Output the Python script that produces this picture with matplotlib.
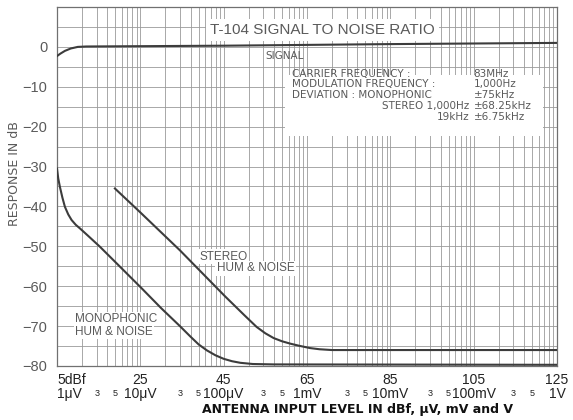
import numpy as np
import matplotlib
matplotlib.use("Agg")
import matplotlib.pyplot as plt
from matplotlib.patches import Rectangle

plt.rcParams['font.family'] = ['Liberation Sans', 'DejaVu Sans']

# curves: x in dBf, y in dB
signal_dbf = [5, 5.8, 6.9, 8.3, 10, 12, 45, 85, 125]
signal_db = [-2.3, -1.7, -1.0, -0.4, 0.0, 0.1, 0.3, 0.7, 1.0]

mono_dbf = [5, 5.3, 5.7, 6.3, 6.9, 7.7, 8.5, 9.5, 10.5, 12.5, 15.3, 20.5, 25.3, 30, 34.5,
            37, 39, 41, 43, 45, 47, 49, 52, 57, 125]
mono_db = [-30.5, -33.0, -35.1, -37.8, -40.1, -42.0, -43.4, -44.6, -45.5, -47.4, -50.1, -55.5,
           -60.5, -65.5, -70.0, -72.6, -74.6, -76.1, -77.3, -78.2, -78.8, -79.2, -79.5, -79.6, -79.7]

stereo_dbf = [18.9, 25, 34.5, 45.3, 50, 52.9, 55, 57, 59, 61, 63, 65.7, 68, 71, 125]
stereo_db = [-35.5, -41.5, -51.0, -62.5, -67.3, -70.2, -71.8, -73.0, -73.8, -74.4, -74.9, -75.5,
             -75.8, -76.0, -76.0]

# axis labels
major_dbf = [5, 25, 45, 65, 85, 105, 125]
major_dbf_labels = ["5dBf", "25", "45", "65", "85", "105", "125"]
major_volt_labels = ["1\u03bcV", "10\u03bcV", "100\u03bcV", "1mV", "10mV", "100mV", "1V"]
minor_steps = [3, 5]
y_ticks = [0, -10, -20, -30, -40, -50, -60, -70, -80]

# info block
info_left = ["CARRIER FREQUENCY :", "MODULATION FREQUENCY :", "DEVIATION : MONOPHONIC",
             "STEREO 1,000Hz", "19kHz"]
info_right = ["83MHz", "1,000Hz", "\u00b175kHz", "\u00b168.25kHz", "\u00b16.75kHz"]

text_gray = "#5a5a5a"
curve_col = "#3c3c3c"
grid_col = "#9a9a9a"
wide = ['DejaVu Sans']

fig = plt.figure(figsize=(5.73, 4.2), dpi=100)
ax = fig.add_axes([57 / 573, 54 / 420, 500 / 573, 359 / 420])
ax.set_xlim(5, 125)
ax.set_ylim(-80, 10)

# log-paper grid: voltage lines 1..9 per decade (20 dBf per decade)
vlines = []
for dec in range(6):
    for k in range(1, 10):
        vlines.append(5 + 20 * dec + 20 * np.log10(k))
for v in vlines:
    ax.axvline(v, color=grid_col, lw=0.6, zorder=0)
for h in np.arange(-80, 10.1, 5):
    ax.axhline(h, color=grid_col, lw=0.6, zorder=0)

ax.plot(signal_dbf, signal_db, color=curve_col, lw=1.5, zorder=3)
ax.plot(mono_dbf, mono_db, color=curve_col, lw=1.5, zorder=3)
ax.plot(stereo_dbf, stereo_db, color=curve_col, lw=1.5, zorder=3)

for s in ax.spines.values():
    s.set_color("#707070")
    s.set_linewidth(0.9)

ax.set_yticks(y_ticks)
ax.set_yticklabels(["0"] + ["\u2212%d" % -t for t in y_ticks[1:]], fontsize=10.5, color=text_gray)
ax.tick_params(axis="y", length=0, pad=7)
ax.set_xticks([])

# x tick labels in two rows
for d, l1, l2 in zip(major_dbf, major_dbf_labels, major_volt_labels):
    ha = "left" if d == major_dbf[0] else "center"
    ax.annotate(l1, xy=(d, 0), xycoords=("data", "axes fraction"), xytext=(0, -14),
                textcoords="offset pixels", ha=ha, va="center", fontsize=10, color="#222222")
    ax.annotate(l2, xy=(d, 0), xycoords=("data", "axes fraction"), xytext=(0, -28),
                textcoords="offset pixels", ha=ha, va="center", fontsize=10, color="#222222")
for dec in range(6):
    for k in minor_steps:
        ax.annotate(str(k), xy=(5 + 20 * dec + 20 * np.log10(k), 0),
                    xycoords=("data", "axes fraction"), xytext=(0, -28),
                    textcoords="offset pixels", ha="center", va="center",
                    fontsize=6.5, color="#222222")

fig.text(357 / 573, 11 / 420, "ANTENNA INPUT LEVEL IN dBf, \u03bcV, mV and V",
         ha="center", va="center", fontsize=9, color="#111111", family=wide, weight="bold")
fig.text(15 / 573, 1 - 174 / 420, "RESPONSE IN dB", rotation=90, ha="center",
         va="center", fontsize=9, color=text_gray, family=wide)

# title
ax.text(68.6, 4.2, "T-104 SIGNAL TO NOISE RATIO", ha="center", va="center", fontsize=11,
        color=text_gray, zorder=4,
        bbox=dict(facecolor="white", edgecolor="none", pad=3))
ax.text(54.9, -2.4, "SIGNAL", ha="left", va="center", fontsize=7.5, color=text_gray,
        zorder=4, family=wide)

# info block on white panel
ax.add_patch(Rectangle((0.456, 0.64), 0.515, 0.17, transform=ax.transAxes,
                       facecolor="white", edgecolor="none", zorder=2))
info_y = [-6.7, -9.4, -12.1, -14.9, -17.5]
for i, (a, b, y) in enumerate(zip(info_left, info_right, info_y)):
    if i < 3:
        ax.text(61.4, y, a, ha="left", va="center", fontsize=7.5, color=text_gray,
                zorder=4, family=wide)
    else:
        ax.text(104.0, y, a, ha="right", va="center", fontsize=7.5, color=text_gray,
                zorder=4, family=wide)
    ax.text(105.0, y, b, ha="left", va="center", fontsize=7.5, color=text_gray,
            zorder=4, family=wide)

lbl_box = dict(facecolor="white", edgecolor="none", pad=1)
ax.text(39.1, -52.6, "STEREO", ha="left", va="center", fontsize=8.5, color=text_gray,
        zorder=4, bbox=lbl_box)
ax.text(43.3, -55.5, "HUM & NOISE", ha="left", va="center", fontsize=8.5, color=text_gray,
        zorder=4, bbox=lbl_box)
ax.text(9.3, -68.2, "MONOPHONIC", ha="left", va="center", fontsize=8.5, color=text_gray,
        zorder=4, bbox=lbl_box)
ax.text(9.3, -71.4, "HUM & NOISE", ha="left", va="center", fontsize=8.5, color=text_gray,
        zorder=4, bbox=lbl_box)

fig.savefig("out.png", dpi=100)
